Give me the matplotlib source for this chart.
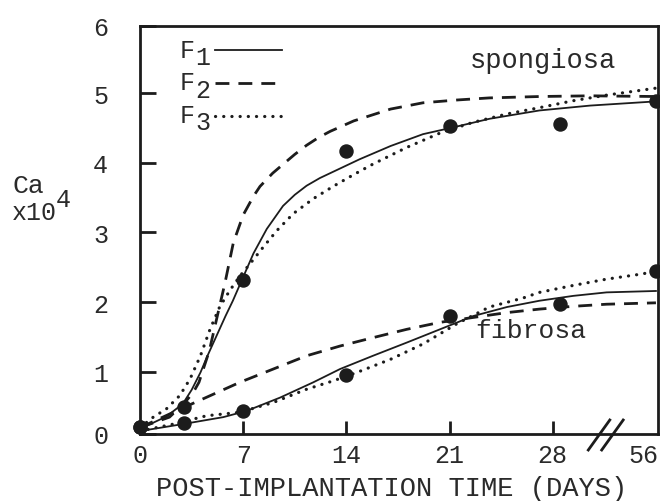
import matplotlib
matplotlib.use('Agg')
import matplotlib.pyplot as plt
import numpy as np

plt.rcParams['font.family'] = ['Liberation Mono', 'DejaVu Sans Mono']
plt.rcParams['lines.scale_dashes'] = False

# ---------------- data ----------------
point_days = [0, 3, 7, 14, 21, 28.5, 56]
spongiosa_obs = [0.21, 0.49, 2.32, 4.17, 4.52, 4.56, 4.88]
fibrosa_obs = [0.21, 0.27, 0.44, 0.95, 1.80, 1.97, 2.45]

# spongiosa fitted curves
sp_F1_days = [0, 0.7, 1.8, 2.9, 3.5, 4.1, 4.6, 5.2, 5.8, 6.3, 7.0, 7.7, 8.6, 9.7, 10.5, 11.3, 12.2, 13.1, 14.9, 17.0, 19.2, 21.3, 23.7, 27.1, 32.8, 56]
sp_F1_vals = [0.20, 0.25, 0.36, 0.54, 0.74, 0.99, 1.24, 1.52, 1.80, 2.02, 2.36, 2.70, 3.05, 3.38, 3.54, 3.67, 3.78, 3.87, 4.05, 4.24, 4.41, 4.51, 4.63, 4.75, 4.82, 4.88]
sp_F2_days = [0, 2.0, 3.0, 3.6, 4.0, 4.7, 5.2, 5.77, 6.33, 7.0, 7.7, 8.14, 9.0, 9.72, 10.5, 11.3, 12.1, 12.9, 14.5, 17.0, 19.2, 21.5, 23.7, 27.1, 32.8, 56]
sp_F2_vals = [0.20, 0.35, 0.55, 0.70, 0.85, 1.30, 1.76, 2.28, 2.85, 3.25, 3.52, 3.66, 3.85, 3.98, 4.12, 4.25, 4.36, 4.45, 4.60, 4.77, 4.86, 4.90, 4.93, 4.95, 4.96, 4.95]
sp_F3_days = [0, 0.9, 1.8, 2.7, 3.4, 4.1, 4.75, 5.4, 6.1, 6.8, 7.5, 8.4, 9.3, 10.4, 11.8, 13.1, 14.5, 15.8, 18.1, 20.4, 22.6, 24.9, 27.1, 29.4, 38.6, 56]
sp_F3_vals = [0.20, 0.35, 0.47, 0.66, 0.90, 1.23, 1.61, 1.93, 2.17, 2.38, 2.56, 2.80, 3.03, 3.27, 3.49, 3.66, 3.83, 3.98, 4.22, 4.43, 4.58, 4.70, 4.79, 4.89, 4.97, 5.07]

# fibrosa fitted curves
fb_F1_days = [0, 2.9, 5.65, 7.24, 9.5, 11.76, 13.57, 15.8, 18.1, 20.35, 22.6, 24.9, 27.1, 29.4, 38.6, 56]
fb_F1_vals = [0.15, 0.25, 0.35, 0.44, 0.63, 0.85, 1.04, 1.23, 1.42, 1.61, 1.80, 1.93, 2.02, 2.09, 2.14, 2.16]
fb_F2_days = [0, 3.2, 6.78, 9.04, 11.3, 13.57, 15.8, 18.1, 20.35, 22.6, 24.9, 27.1, 29.4, 38.6, 56]
fb_F2_vals = [0.20, 0.51, 0.85, 1.04, 1.23, 1.37, 1.49, 1.61, 1.71, 1.78, 1.85, 1.90, 1.94, 1.97, 1.99]
fb_F3_days = [0, 2.26, 4.52, 6.78, 9.04, 11.3, 13.1, 14.7, 17.0, 19.2, 21.5, 23.7, 26.0, 27.1, 29.4, 38.6, 50.4, 56]
fb_F3_vals = [0.15, 0.25, 0.37, 0.42, 0.56, 0.75, 0.87, 0.99, 1.18, 1.40, 1.69, 1.93, 2.06, 2.14, 2.24, 2.33, 2.40, 2.44]

x_tick_days = [0, 7, 14, 21, 28]
x_tick_labels = ['0', '7', '14', '21', '28']
last_day_label = '56'
y_tick_labels = ['0', '1', '2', '3', '4', '5', '6']

# ---------------- axis break mapping ----------------
BREAK = 30.0
def pos(days):
    d = np.asarray(days, dtype=float)
    return np.where(d <= BREAK, d, BREAK + (d - BREAK) * 5.0 / 26.0)

W, H = 660, 502
def fx(px):
    return px / W
def fy(py):
    return 1 - py / H

INK = '#1c1c1c'
TXT = '#2a2a2a'

fig = plt.figure(figsize=(6.6, 5.02), dpi=100)
ax = fig.add_axes([fx(140), fy(435), fx(658) - fx(140), fy(26.7) - fy(435)])
ax.set_xlim(0, 35.14)
Y0, Y1 = 0.108, 5.966
ax.set_ylim(Y0, Y1)

solid = dict(color=INK, lw=1.3, linestyle='-', solid_joinstyle='round')
dashed = dict(color=INK, lw=2.0, linestyle=(0, (10, 6.5)))
dotted = dict(color=INK, lw=2.3, linestyle=(0, (0.1, 5.8)), dash_capstyle='round')

for days, vals, st in [(sp_F1_days, sp_F1_vals, solid), (sp_F2_days, sp_F2_vals, dashed),
                       (sp_F3_days, sp_F3_vals, dotted), (fb_F1_days, fb_F1_vals, solid),
                       (fb_F2_days, fb_F2_vals, dashed), (fb_F3_days, fb_F3_vals, dotted)]:
    ax.plot(pos(days), vals, clip_on=False, **st)

ax.plot(pos(point_days), spongiosa_obs, 'o', color=INK, ms=9.4, clip_on=False, zorder=5)
ax.plot(pos(point_days), fibrosa_obs, 'o', color=INK, ms=9.4, clip_on=False, zorder=5)

# spines / ticks
for s in ax.spines.values():
    s.set_linewidth(2.0)
    s.set_color(INK)
ax.set_xticks(pos(x_tick_days), x_tick_labels)
ax.set_yticks([Y0, 1, 2, 3, 4, 5, Y1], y_tick_labels)
ax.tick_params(axis='x', direction='in', length=9.4, width=2.0, pad=6.5, labelsize=18, colors=INK, labelcolor=TXT)
ax.tick_params(axis='y', direction='in', length=11.5, width=2.0, pad=23, labelsize=18, colors=INK, labelcolor=TXT)
ax.annotate(last_day_label, xy=(pos(56), Y0), xytext=(-9, -6.5), textcoords='offset points',
            ha='center', va='top', fontsize=18, color=TXT, annotation_clip=False)

# axis break marks
for x0 in (588.3, 601.7):
    fig.add_artist(plt.Line2D([fx(x0), fx(x0 + 21.5)], [fy(451), fy(421)], color=INK, lw=2.0))

# texts
fig.text(fx(391.5), fy(496.5), 'POST-IMPLANTATION TIME (DAYS)', ha='center', va='baseline', fontsize=19.5, color=TXT)
fig.text(fx(12), fy(193), 'Ca', ha='left', va='baseline', fontsize=19, color=TXT)
fig.text(fx(12), fy(220), 'x10', ha='left', va='baseline', fontsize=18, color=TXT)
fig.text(fx(56), fy(207), '4', ha='left', va='baseline', fontsize=18, color=TXT)
fig.text(fx(470), fy(68), 'spongiosa', ha='left', va='baseline', fontsize=19.5, color=TXT)
fig.text(fx(475), fy(338), 'fibrosa', ha='left', va='baseline', fontsize=19, color=TXT)

# legend
legend_names = ['1', '2', '3']
legend_styles = [solid, dashed, dotted]
for i, (nm, st) in enumerate(zip(legend_names, legend_styles)):
    base = 58 + 32.5 * i
    ly = 50.7 + 33.2 * i
    fig.text(fx(180), fy(base), 'F', ha='left', va='baseline', fontsize=18, color=TXT)
    fig.text(fx(195), fy(base + 7), nm, ha='left', va='baseline', fontsize=18, color=TXT)
    fig.add_artist(plt.Line2D([fx(215), fx(282)], [fy(ly), fy(ly)], **st))

fig.savefig('out.png', dpi=100, facecolor='white')
